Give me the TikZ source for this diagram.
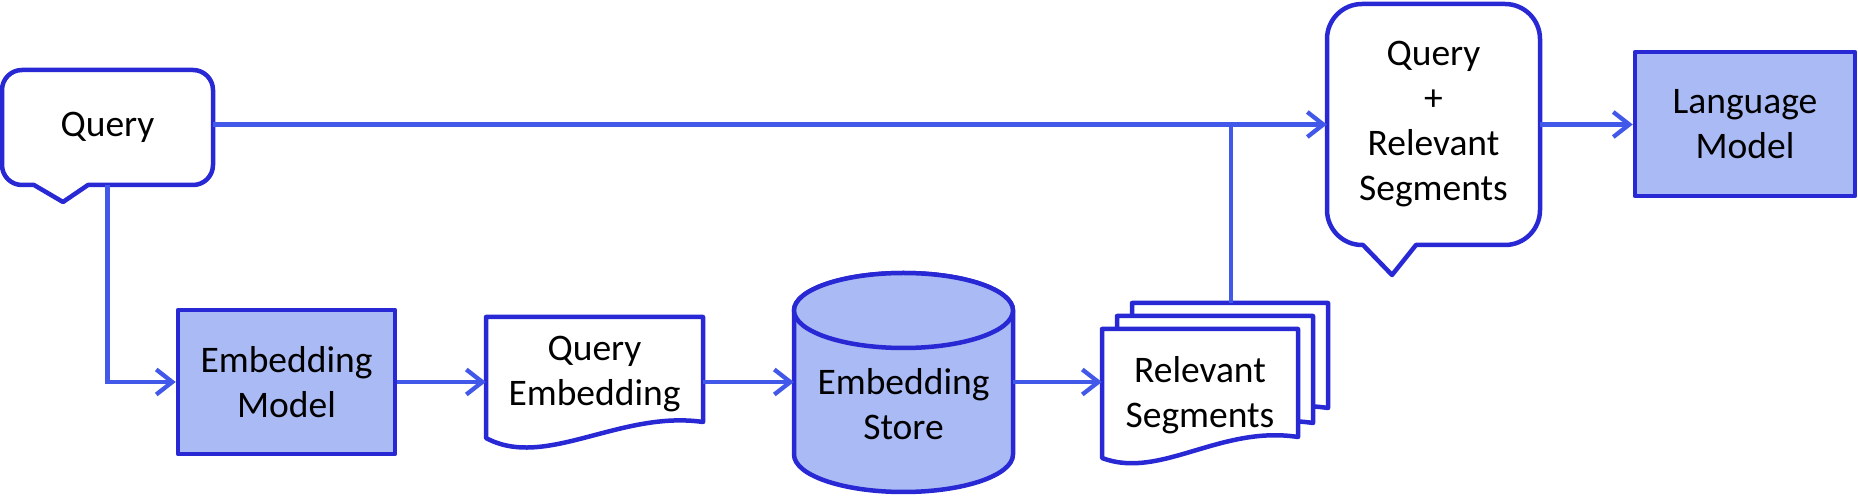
\documentclass[tikz,border=0pt]{standalone}
\usepackage{fontspec}
\setmainfont{Carlito}
\usetikzlibrary{arrows.meta,calc}
\definecolor{bdr}{RGB}{40,40,212}
\definecolor{lnk}{RGB}{66,88,232}
\definecolor{fil}{RGB}{170,186,244}
\begin{document}
\begin{tikzpicture}[x=1pt,y=1pt,
  txt/.style={align=center,font=\fontsize{37.5}{45}\selectfont,inner sep=0pt},
  shp/.style={draw=bdr,line width=4.5pt,line join=round},
  box/.style={shp,fill=fil,txt},
  link/.style={draw=lnk,line width=4.3pt,-{Straight Barb[length=16pt,width=25pt]}},
  plain/.style={draw=lnk,line width=4.3pt}]
\useasboundingbox (0,0) rectangle (1858,500);

% Query callout
\draw[shp,fill=white] (22,430) -- (193,430) arc[start angle=90,end angle=0,radius=20pt]
  -- (213,335) arc[start angle=0,end angle=-90,radius=20pt]
  -- (88,315) -- (63,298) -- (34,315) -- (22,315) arc[start angle=270,end angle=180,radius=20pt]
  -- (2,410) arc[start angle=180,end angle=90,radius=20pt] -- cycle;
\node[txt,minimum width=211pt,minimum height=115pt] (q) at (107.5,372.5) {Query};

% Embedding model
\node[box,minimum width=217pt,minimum height=144pt] (em) at (286.5,118) {Embedding\\Model};

% Query embedding document
\draw[shp,fill=white] (486,183) -- (703,183) -- (703,78) .. controls (620,90) and (545,30) .. (486,62) -- cycle;
\node[txt,minimum width=217pt] (qe) at (594.5,126) {Query\\Embedding};

% Embedding store cylinder
\draw[shp,fill=fil] (794,189.5) -- (794,45.5) arc[start angle=180,end angle=360,x radius=109.5pt,y radius=37.5pt]
  -- (1013,189.5) arc[start angle=0,end angle=180,x radius=109.5pt,y radius=37.5pt] -- cycle;
\draw[shp,fill=fil] (903.5,189.5) ellipse[x radius=109.5pt,y radius=37.5pt];
\node[txt,minimum width=219pt] (es) at (903.5,96) {Embedding\\Store};

% Relevant segments (stacked documents)
\draw[shp,fill=white] (1132,197) -- (1328,197) -- (1328,92) .. controls (1250,104) and (1190,49) .. (1132,71) -- cycle;
\draw[shp,fill=white] (1117,184) -- (1313,184) -- (1313,77) .. controls (1235,89) and (1175,34) .. (1117,56) -- cycle;
\draw[shp,fill=white] (1102,171) -- (1298,171) -- (1298,63) .. controls (1220,75) and (1160,20) .. (1102,42) -- cycle;
\node[txt,minimum width=196pt] (rs) at (1200,105) {Relevant\\Segments};
\coordinate (rstop) at (1231,197);

% Query + relevant segments callout
\draw[shp,fill=white] (1362,496) -- (1505,496) arc[start angle=90,end angle=0,radius=35pt]
  -- (1540,290) arc[start angle=0,end angle=-90,radius=35pt]
  -- (1416,255) -- (1392,225) -- (1363,255) -- (1362,255) arc[start angle=270,end angle=180,radius=35pt]
  -- (1327,461) arc[start angle=180,end angle=90,radius=35pt] -- cycle;
\node[txt,minimum width=213pt] (qr) at (1433.5,375.5) {Query\\+\\Relevant\\Segments};

% Language model
\node[box,minimum width=220pt,minimum height=144pt] (lm) at (1745,376) {Language\\Model};

% connectors
\draw[link] (q.east |- qr.west) -- (qr.west);
\draw[plain] (rstop) -- (rstop |- qr.west);
\draw[link] (qr.east) -- (qr.east -| lm.west);
\draw[link] (q.south) |- (em.west);
\draw[link] (em.east) -- (em.east -| qe.west);
\draw[link] (em.east -| qe.east) -- (em.east -| es.west);
\draw[link] (em.east -| es.east) -- (em.east -| rs.west);
\end{tikzpicture}
\end{document}
